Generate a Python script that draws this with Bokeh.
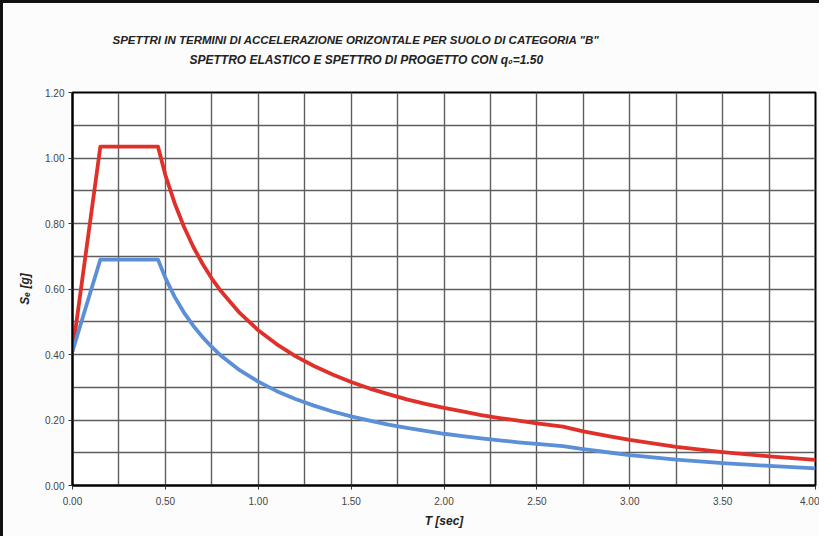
from bokeh.plotting import figure
from bokeh.models import FixedTicker, Title, ColumnDataSource, Range1d, PrintfTickFormatter
from bokeh.embed import file_html
from bokeh.resources import INLINE

# Period T [sec]
T = [0.00, 0.15, 0.46, 0.50, 0.55, 0.60, 0.65, 0.70, 0.75, 0.80, 0.90, 1.00,
     1.10, 1.20, 1.30, 1.40, 1.50, 1.60, 1.70, 1.80, 1.90, 2.00, 2.10, 2.20,
     2.30, 2.40, 2.50, 2.64, 2.75, 2.90, 3.00, 3.25, 3.50, 3.75, 4.00]
# Elastic spectrum Se [g] (red)
elastic = [0.410, 1.035, 1.035, 0.948, 0.862, 0.790, 0.729, 0.677, 0.632, 0.593, 0.527, 0.474,
           0.431, 0.395, 0.365, 0.339, 0.316, 0.296, 0.279, 0.263, 0.249, 0.237, 0.226, 0.215,
           0.206, 0.198, 0.190, 0.180, 0.165, 0.149, 0.139, 0.118, 0.102, 0.089, 0.078]
# Design spectrum q0 = 1.50 (blue)
design = [0.410, 0.690, 0.690, 0.634, 0.576, 0.528, 0.488, 0.453, 0.423, 0.396, 0.352, 0.317,
          0.288, 0.264, 0.244, 0.226, 0.211, 0.198, 0.186, 0.176, 0.167, 0.158, 0.151, 0.144,
          0.138, 0.132, 0.127, 0.120, 0.111, 0.100, 0.093, 0.079, 0.068, 0.060, 0.052]

x_ticks = [0.0, 0.5, 1.0, 1.5, 2.0, 2.5, 3.0, 3.5, 4.0]
y_ticks = [0.0, 0.2, 0.4, 0.6, 0.8, 1.0, 1.2]
x_grid = [0.25, 0.5, 0.75, 1.0, 1.25, 1.5, 1.75, 2.0, 2.25, 2.5, 2.75, 3.0, 3.25, 3.5, 3.75]
y_grid = [0.1, 0.2, 0.3, 0.4, 0.5, 0.6, 0.7, 0.8, 0.9, 1.0, 1.1]

title_1 = 'SPETTRI IN TERMINI DI ACCELERAZIONE ORIZONTALE PER SUOLO DI CATEGORIA "B"'
title_2 = 'SPETTRO ELASTICO E SPETTRO DI PROGETTO CON q\u2080=1.50'
x_label = "T [sec]"
y_label = "S\u2091 [g]"

FONT = "Liberation Sans"
NARROW = "'Liberation Sans Narrow', 'Liberation Sans', sans-serif"

src = ColumnDataSource(dict(T=T, elastic=elastic, design=design))

p = figure(width=819, height=536, output_backend="svg", toolbar_location=None,
           x_range=Range1d(0, 4), y_range=Range1d(0, 1.2),
           min_border_left=69, min_border_top=89, min_border_right=7, min_border_bottom=54,
           background_fill_color="white", border_fill_color="#fcfcfc",
           styles={"border-top": "3px solid #111", "border-left": "3px solid #111"})

p.outline_line_color = "black"
p.outline_line_width = 2
p.outline_line_alpha = 1

for ax in (p.xaxis, p.yaxis):
    ax.axis_line_color = "black"
    ax.axis_line_width = 2
    ax.major_tick_line_color = "#333"
    ax.major_tick_out = 4
    ax.major_tick_in = 0
    ax.minor_tick_line_color = None
    ax.major_label_text_font = NARROW
    ax.major_label_text_font_size = "10px"
    ax.major_label_text_color = "#444"
    ax.formatter = PrintfTickFormatter(format="%.2f")
    ax.axis_label_text_font = FONT
    ax.axis_label_text_font_style = "bold italic"
    ax.axis_label_text_font_size = "12px"
    ax.axis_label_text_color = "#222"

p.xaxis.ticker = FixedTicker(ticks=x_ticks)
p.yaxis.ticker = FixedTicker(ticks=y_ticks)
p.xaxis.major_label_standoff = 7
p.yaxis.major_label_standoff = 4
p.xaxis.axis_label = x_label
p.yaxis.axis_label = y_label
p.xaxis.axis_label_standoff = 6
p.yaxis.axis_label_standoff = 10

p.xgrid.ticker = FixedTicker(ticks=x_grid)
p.ygrid.ticker = FixedTicker(ticks=y_grid)
for g in (p.xgrid, p.ygrid):
    g.grid_line_color = "#5e5e5e"
    g.grid_line_width = 1.4
    g.grid_line_alpha = 1

p.line("T", "elastic", source=src, line_color="#e0302a", line_width=3.8, line_join="round")
p.line("T", "design", source=src, line_color="#5b8fd6", line_width=3.8, line_join="round")

# spacer between frame and titles, then second line, then first line on top
p.add_layout(Title(text=" ", standoff=23, text_font_size="1px"), "above")
p.add_layout(Title(text=title_2, align="left", offset=117, standoff=0,
                   text_font=FONT, text_font_style="bold italic", text_font_size="12px",
                   text_color="#222"), "above")
p.add_layout(Title(text=title_1, align="left", offset=40, standoff=9,
                   text_font=FONT, text_font_style="bold italic", text_font_size="11.5px",
                   text_color="#222"), "above")

open("out.html", "w").write(file_html(p, INLINE))
